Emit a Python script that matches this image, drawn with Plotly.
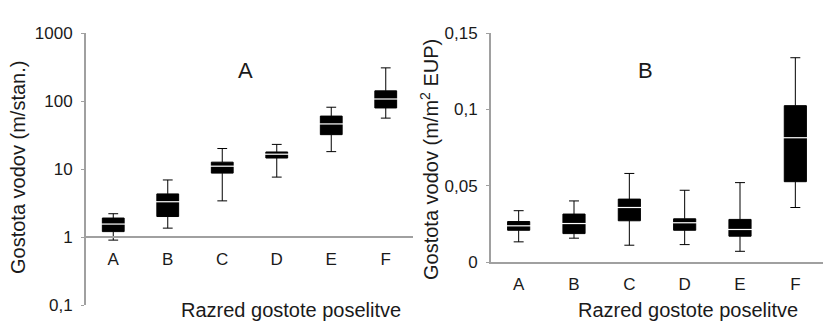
import plotly.graph_objects as go

categories = ["A", "B", "C", "D", "E", "F"]

# Panel A (log scale), m/stan.
a_low = [0.9, 1.35, 3.4, 7.6, 18, 56]
a_q1 = [1.2, 2.0, 8.7, 14.5, 32, 79]
a_med = [1.55, 3.3, 11, 16.5, 46, 107]
a_q3 = [1.9, 4.3, 12.6, 17.8, 60, 141]
a_high = [2.2, 6.9, 20, 23, 81, 307]

# Panel B (linear), m/m2 EUP
b_low = [0.0132, 0.0156, 0.011, 0.0114, 0.007, 0.0357]
b_q1 = [0.0208, 0.0186, 0.027, 0.0208, 0.0169, 0.0526]
b_med = [0.0237, 0.0252, 0.0357, 0.0257, 0.0213, 0.0814]
b_q3 = [0.0265, 0.0314, 0.0412, 0.0283, 0.0279, 0.1024]
b_high = [0.0336, 0.040, 0.058, 0.047, 0.052, 0.1338]

a_ticks = [0.1, 1, 10, 100, 1000]
a_ticktext = ["0,1", "1", "10", "100", "1000"]
b_ticks = [0, 0.05, 0.1, 0.15]
b_ticktext = ["0", "0,05", "0,1", "0,15"]

W, H = 835, 322
OFF = 8  # page body margin
FONT = "Liberation Sans, Arial, sans-serif"
TXT = "#1a1a1a"
AX = "#a0a0a0"

def px_x(p):
    return (p - OFF) / W

def px_y(p):
    return 1 - (p - OFF) / H

fig = go.Figure()

box_style = dict(fillcolor="black", line=dict(color="black", width=1),
                 whiskerwidth=0.45, width=0.4, showlegend=False, hoverinfo="skip")

fig.add_trace(go.Box(x=categories, q1=a_q1, median=a_med, q3=a_q3,
                     lowerfence=a_low, upperfence=a_high,
                     xaxis="x", yaxis="y", **box_style))
fig.add_trace(go.Scatter(x=categories, y=a_med, mode="markers",
                         marker=dict(symbol="line-ew-open", size=19, color="white",
                                     line=dict(color="white", width=1.2)),
                         xaxis="x", yaxis="y", showlegend=False, hoverinfo="skip"))

fig.add_trace(go.Box(x=categories, q1=b_q1, median=b_med, q3=b_q3,
                     lowerfence=b_low, upperfence=b_high,
                     xaxis="x2", yaxis="y2", **box_style))
fig.add_trace(go.Scatter(x=categories, y=b_med, mode="markers",
                         marker=dict(symbol="line-ew-open", size=20, color="white",
                                     line=dict(color="white", width=1.2)),
                         xaxis="x2", yaxis="y2", showlegend=False, hoverinfo="skip"))

tickfont = dict(family=FONT, size=17, color=TXT)

def ann(text, x, y, size=20, angle=0):
    return dict(text=text, x=px_x(x), y=px_y(y), xref="paper", yref="paper",
                xanchor="center", yanchor="middle", showarrow=False,
                textangle=angle, font=dict(family=FONT, size=size, color=TXT))

fig.update_layout(
    template="none",
    width=W, height=H,
    margin=dict(l=0, r=0, t=0, b=0, autoexpand=False),
    paper_bgcolor="white", plot_bgcolor="white",
    xaxis=dict(domain=[px_x(86), px_x(413)], anchor="free", position=px_y(237),
               range=[-0.5, 5.5], showline=True, linecolor=AX, linewidth=2,
               showgrid=False, zeroline=False, ticks="", tickfont=tickfont,
               ticklabelstandoff=7, automargin=False),
    yaxis=dict(domain=[px_y(305), px_y(33)], anchor="x", type="log",
               range=[-1, 3], tickvals=a_ticks, ticktext=a_ticktext,
               showline=True, linecolor=AX, linewidth=2, showgrid=False,
               zeroline=False, ticks="outside", ticklen=3, tickcolor=AX,
               tickfont=tickfont, ticklabelstandoff=5, automargin=False),
    xaxis2=dict(domain=[px_x(491), px_x(823)], anchor="y2",
                range=[-0.5, 5.5], showline=True, linecolor=AX, linewidth=2,
                showgrid=False, zeroline=False, ticks="", tickfont=tickfont,
                ticklabelstandoff=6, automargin=False),
    yaxis2=dict(domain=[px_y(262), px_y(33)], anchor="x2",
                range=[0, 0.15], tickvals=b_ticks, ticktext=b_ticktext,
                showline=True, linecolor=AX, linewidth=2, showgrid=False,
                zeroline=False, ticks="outside", ticklen=3, tickcolor=AX,
                tickfont=tickfont, ticklabelstandoff=5, automargin=False),
    annotations=[
        ann("A", 245, 70, 22),
        ann("B", 645, 70, 22),
        ann("Razred gostote poselitve", 291, 310),
        ann("Razred gostote poselitve", 688, 310),
        ann("Gostota vodov (m/stan.)", 18, 168, angle=-90),
        ann("Gostota vodov (m/m<sup>2</sup> EUP)", 429, 160, angle=-90),
    ],
)

fig.write_html("out.html")
